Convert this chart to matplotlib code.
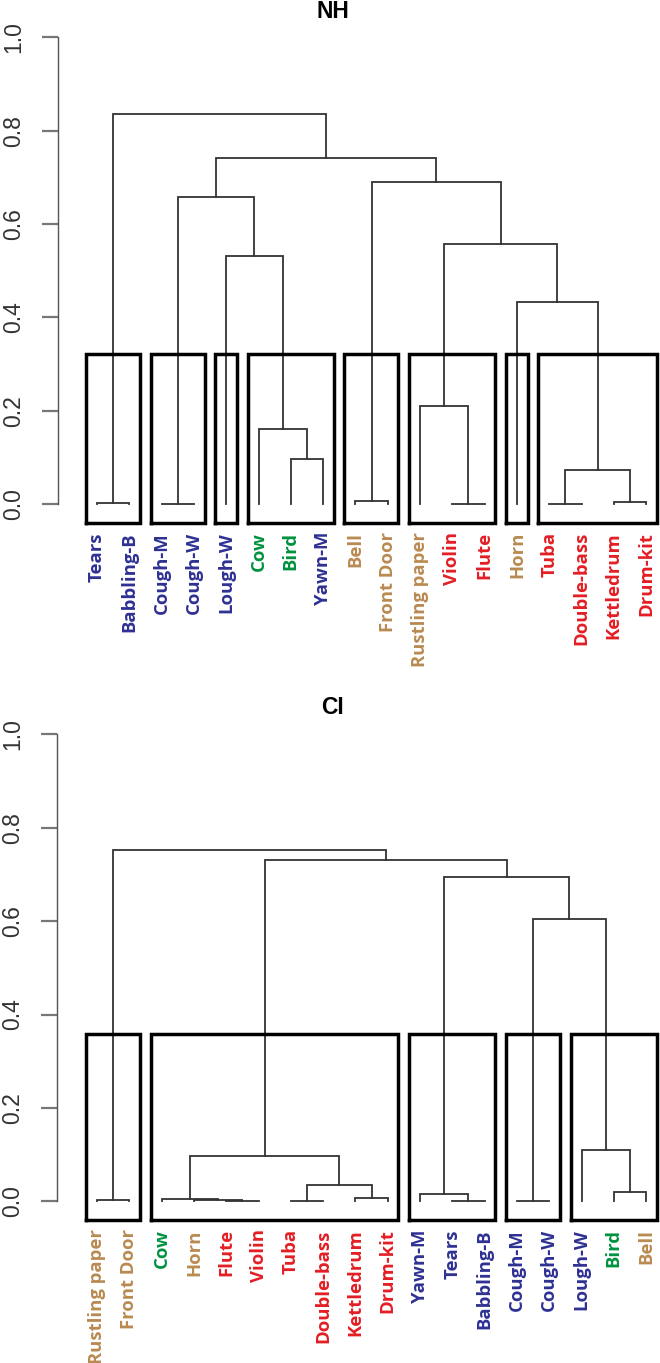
import matplotlib
matplotlib.use("Agg")
import matplotlib.pyplot as plt

# leaf colours by sound category
blue, green, tan, red = "#2e3192", "#00923f", "#b98a50", "#e31e24"
leaf_colors = {
    "Tears": blue, "Babbling-B": blue, "Cough-M": blue, "Cough-W": blue,
    "Lough-W": blue, "Yawn-M": blue,
    "Cow": green, "Bird": green,
    "Bell": tan, "Front Door": tan, "Rustling paper": tan, "Horn": tan,
    "Violin": red, "Flute": red, "Tuba": red, "Double-bass": red,
    "Kettledrum": red, "Drum-kit": red,
}

# NH tree: leaf order and merges (str = leaf, int = earlier merge, 1-based)
nh_order = ["Tears", "Babbling-B", "Cough-M", "Cough-W", "Lough-W", "Cow", "Bird",
            "Yawn-M", "Bell", "Front Door", "Rustling paper", "Violin", "Flute",
            "Horn", "Tuba", "Double-bass", "Kettledrum", "Drum-kit"]
nh_a = ["Tears", "Cough-M", "Violin", "Tuba", "Kettledrum", "Bell", 4, "Bird",
        "Cow", "Rustling paper", "Horn", "Lough-W", 10, 2, 6, 14, 1]
nh_b = ["Babbling-B", "Cough-W", "Flute", "Double-bass", "Drum-kit", "Front Door",
        5, "Yawn-M", 8, 3, 7, 9, 11, 12, 13, 15, 16]
nh_h = [0.002, 0.001, 0.001, 0.001, 0.004, 0.006, 0.074, 0.096, 0.161, 0.211,
        0.434, 0.531, 0.557, 0.658, 0.691, 0.741, 0.836]
nh_k = 8

# CI tree
ci_order = ["Rustling paper", "Front Door", "Cow", "Horn", "Flute", "Violin", "Tuba",
            "Double-bass", "Kettledrum", "Drum-kit", "Yawn-M", "Tears", "Babbling-B",
            "Cough-M", "Cough-W", "Lough-W", "Bird", "Bell"]
ci_a = ["Rustling paper", "Flute", "Tuba", "Tears", "Cough-M", "Horn", "Cow",
        "Kettledrum", "Yawn-M", "Bird", 3, 7, "Lough-W", 5, 9, 12, 1]
ci_b = ["Front Door", "Violin", "Double-bass", "Babbling-B", "Cough-W", 2, 6,
        "Drum-kit", 4, "Bell", 8, 11, 10, 13, 14, 15, 16]
ci_h = [0.002, 0.001, 0.0, 0.001, 0.0, 0.003, 0.005, 0.007, 0.016, 0.020, 0.036,
        0.096, 0.110, 0.605, 0.694, 0.731, 0.752]
ci_k = 5

LINE = "#333333"
LABEL_FONT = ["Open Sans", "DejaVu Sans"]


def leaves_of(node, a, b):
    if isinstance(node, str):
        return [node]
    return leaves_of(a[node - 1], a, b) + leaves_of(b[node - 1], a, b)


def draw_tree(ax, order, a, b, h, k):
    pos = {name: i for i, name in enumerate(order)}
    xs, hs = [], []

    def node_xh(node):
        if isinstance(node, str):
            return pos[node], 0.0
        return xs[node - 1], hs[node - 1]

    for na, nb, hh in zip(a, b, h):
        xa, ha = node_xh(na)
        xb, hb = node_xh(nb)
        ax.plot([xa, xa, xb, xb], [ha, hh, hh, hb], color=LINE, lw=1.3,
                solid_joinstyle="miter")
        xs.append((xa + xb) / 2)
        hs.append(hh)

    # rect.hclust style boxes for k clusters
    clusters = [len(a)]
    while len(clusters) < k:
        top = max([c for c in clusters if isinstance(c, int)], key=lambda c: h[c - 1])
        clusters.remove(top)
        clusters += [a[top - 1], b[top - 1]]
    srt = sorted(h, reverse=True)
    cut = (srt[k - 2] + srt[k - 1]) / 2
    for c in clusters:
        idx = [pos[n] for n in leaves_of(c, a, b)]
        x0, x1 = min(idx) - 0.34, max(idx) + 0.33
        ax.plot([x0, x1, x1, x0, x0], [-0.04, -0.04, cut, cut, -0.04],
                color="black", lw=2.5, clip_on=False, solid_joinstyle="miter")

    for i, name in enumerate(order):
        ax.text(i, -0.06, name, rotation=90, ha="center", va="top",
                color=leaf_colors[name], fontsize=13.3, fontweight="bold",
                family=LABEL_FONT)

    ax.set_ylim(-0.04, 1.04)
    for s in ["top", "right", "bottom"]:
        ax.spines[s].set_visible(False)
    ax.spines["left"].set_bounds(0, 1)
    ax.spines["left"].set_color("#555555")
    ax.spines["left"].set_linewidth(1.0)
    ax.set_xticks([])
    ax.set_yticks([0.0, 0.2, 0.4, 0.6, 0.8, 1.0])
    ax.set_yticklabels(["0.0", "0.2", "0.4", "0.6", "0.8", "1.0"], rotation=90,
                       va="center", family="Liberation Sans", fontsize=16.5,
                       color="#333333")
    ax.tick_params(axis="y", length=11.5, width=1.6, color="#777777", pad=12)


W, H = 660, 1363
fig = plt.figure(figsize=(W / 100, H / 100), dpi=100)

sp = 32.3
# top panel
l0 = 58
ax1 = fig.add_axes([l0 / W, 1 - 522.7 / H, (W - l0) / W, (522.7 - 18.8) / H])
ax1.set_xlim((l0 - 97) / sp, (W - 97) / sp)
draw_tree(ax1, nh_order, nh_a, nh_b, nh_h, nh_k)
fig.text(333 / W, 1 - 11 / H, "NH", ha="center", va="center", fontsize=16.5,
         fontweight="bold", family="Liberation Sans")

# bottom panel
l1 = 57
ax2 = fig.add_axes([l1 / W, 1 - 1220 / H, (W - l1) / W, (1220 - 715.6) / H])
ax2.set_xlim((l1 - 97) / sp, (W - 97) / sp)
draw_tree(ax2, ci_order, ci_a, ci_b, ci_h, ci_k)
fig.text(333 / W, 1 - 708 / H, "CI", ha="center", va="center", fontsize=16.5,
         fontweight="bold", family="Liberation Sans")

fig.savefig("out.png", dpi=100)
